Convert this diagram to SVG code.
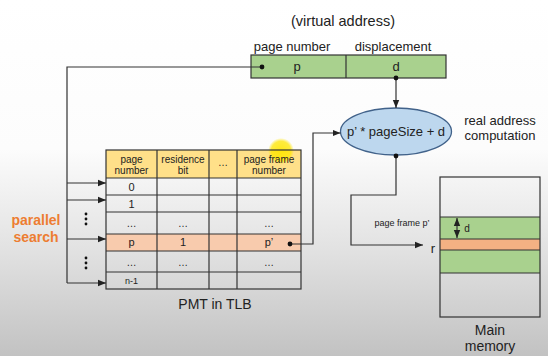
<svg xmlns="http://www.w3.org/2000/svg" width="548" height="356" viewBox="0 0 548 356">
<defs>
<linearGradient id="bg" x1="0" y1="0" x2="0" y2="1">
<stop offset="0" stop-color="#ffffff"/>
<stop offset="0.42" stop-color="#fcfcfc"/>
<stop offset="0.7" stop-color="#e2e2e2"/>
<stop offset="1" stop-color="#c2c2c2"/>
</linearGradient>
<radialGradient id="hl">
<stop offset="0" stop-color="#ffe600" stop-opacity="0.9"/>
<stop offset="0.75" stop-color="#ffe600" stop-opacity="0.75"/>
<stop offset="1" stop-color="#ffe600" stop-opacity="0"/>
</radialGradient>
<marker id="ah" viewBox="0 0 8 8" refX="8" refY="4" markerWidth="8" markerHeight="8" markerUnits="userSpaceOnUse" orient="auto-start-reverse">
<path d="M0,0.8 L8,4 L0,7.2 Z" fill="#222"/>
</marker>
<style>
text{font-family:"Liberation Sans",Arial,sans-serif;fill:#222;text-anchor:middle;dominant-baseline:central}
.cell{stroke:#333;stroke-width:1.2}
.ln{fill:none;stroke:#333;stroke-width:1.2}
.conn{fill:none;stroke:#333;stroke-width:1.2}
.dot{fill:#111}
.t13{font-size:13px}
.t14{font-size:14px}
.th{font-size:10px}
.tc{font-size:11px}
.ts{font-size:9px}
.dots{font-size:10px}
.ps{font-size:14px;font-weight:bold;fill:#ed7d31}
</style>
</defs>
<rect width="548" height="356" fill="url(#bg)"/>

<g id="virtual-address">
<text class="t14" x="343" y="21" style="font-size:14.5px">(virtual address)</text>
<text class="t13" x="292" y="46">page number</text>
<text class="t13" x="393" y="46">displacement</text>
<rect x="251" y="55" width="195" height="23" fill="#a9d18e" class="cell"/>
<line x1="346" y1="55" x2="346" y2="78" class="ln"/>
<text class="t13" x="297" y="66">p</text>
<text class="t13" x="396" y="66">d</text>
</g>

<g id="computation">
<ellipse cx="396" cy="131.5" rx="55.5" ry="23.5" fill="#bdd7ee" stroke="#41628a" stroke-width="1.3"/>
<text class="t13" x="396" y="131">p’ * pageSize + d</text>
<text class="t13" x="500" y="120">real address</text>
<text class="t13" x="500" y="135">computation</text>
</g>

<g id="pmt-table">
<rect x="106" y="150" width="195" height="28" fill="#ffe089"/>
<circle cx="281" cy="151" r="13" fill="url(#hl)"/>
<rect x="106" y="234" width="195" height="17" fill="#f8cbad"/>
<rect x="106" y="150" width="195" height="139" fill="none" class="cell"/>
<line x1="157" y1="150" x2="157" y2="289" class="ln"/>
<line x1="209" y1="150" x2="209" y2="289" class="ln"/>
<line x1="237" y1="150" x2="237" y2="289" class="ln"/>
<line x1="106" y1="178" x2="301" y2="178" class="ln"/>
<line x1="106" y1="195" x2="301" y2="195" class="ln"/>
<line x1="106" y1="212" x2="301" y2="212" class="ln"/>
<line x1="106" y1="234" x2="301" y2="234" class="ln"/>
<line x1="106" y1="251" x2="301" y2="251" class="ln"/>
<line x1="106" y1="272" x2="301" y2="272" class="ln"/>
<text class="th" x="131.5" y="159">page</text>
<text class="th" x="131.5" y="170">number</text>
<text class="th" x="183" y="159">residence</text>
<text class="th" x="183" y="170">bit</text>
<text class="dots" x="223" y="162">…</text>
<text class="th" x="269" y="159">page frame</text>
<text class="th" x="269" y="170">number</text>
<text class="tc" x="131.5" y="186.5">0</text>
<text class="tc" x="131.5" y="203.5">1</text>
<text class="dots" x="131.5" y="223">…</text>
<text class="dots" x="183" y="223">…</text>
<text class="dots" x="269" y="223">…</text>
<text class="tc" x="131.5" y="242">p</text>
<text class="tc" x="183" y="242">1</text>
<text class="tc" x="269" y="242">p’</text>
<text class="dots" x="131.5" y="262">…</text>
<text class="dots" x="183" y="262">…</text>
<text class="dots" x="269" y="262">…</text>
<text class="ts" x="131.5" y="280.5">n-1</text>
<text class="t14" x="215" y="304">PMT in TLB</text>
</g>

<g id="parallel-search">
<text class="ps" x="36" y="220">parallel</text>
<text class="ps" x="36" y="237">search</text>
<circle cx="86" cy="214" r="1.4" class="dot"/>
<circle cx="86" cy="219" r="1.4" class="dot"/>
<circle cx="86" cy="224" r="1.4" class="dot"/>
<circle cx="86" cy="258" r="1.4" class="dot"/>
<circle cx="86" cy="263" r="1.4" class="dot"/>
<circle cx="86" cy="268" r="1.4" class="dot"/>
</g>

<g id="main-memory">
<rect x="440" y="217" width="100" height="22" fill="#a9d18e"/>
<rect x="440" y="239" width="100" height="11" fill="#f4b183"/>
<rect x="440" y="250" width="100" height="23" fill="#a9d18e"/>
<rect x="440" y="177" width="100" height="140" fill="none" class="cell"/>
<line x1="440" y1="217" x2="540" y2="217" class="ln"/>
<line x1="440" y1="239" x2="540" y2="239" class="ln"/>
<line x1="440" y1="250" x2="540" y2="250" class="ln"/>
<line x1="440" y1="273" x2="540" y2="273" class="ln"/>
<line x1="457" y1="218" x2="457" y2="238" class="ln" marker-start="url(#ah)" marker-end="url(#ah)"/>
<text class="th" x="467" y="228">d</text>
<text class="ts" x="402" y="223">page frame p’</text>
<text class="t13" x="433" y="248">r</text>
<text class="t14" x="490" y="330">Main</text>
<text class="t14" x="490" y="346">memory</text>
</g>

<g id="connectors">
<polyline points="262,67 67,67 67,283" class="conn"/>
<line x1="67" y1="183" x2="106" y2="183" class="conn" marker-end="url(#ah)"/>
<line x1="67" y1="200" x2="106" y2="200" class="conn" marker-end="url(#ah)"/>
<line x1="67" y1="239" x2="106" y2="239" class="conn" marker-end="url(#ah)"/>
<line x1="67" y1="283" x2="106" y2="283" class="conn" marker-end="url(#ah)"/>
<circle cx="262" cy="67" r="2.4" class="dot"/>
<line x1="396" y1="78" x2="396" y2="108" class="conn" marker-end="url(#ah)"/>
<circle cx="396" cy="78" r="2.4" class="dot"/>
<polyline points="290,244 313,244 313,133 340.5,133" class="conn" marker-end="url(#ah)"/>
<circle cx="290" cy="244" r="2.4" class="dot"/>
<polyline points="396,156 396,195 351,195 351,245 423,245" class="conn" marker-end="url(#ah)"/>
<circle cx="396" cy="156" r="2.4" class="dot"/>
</g>
</svg>
